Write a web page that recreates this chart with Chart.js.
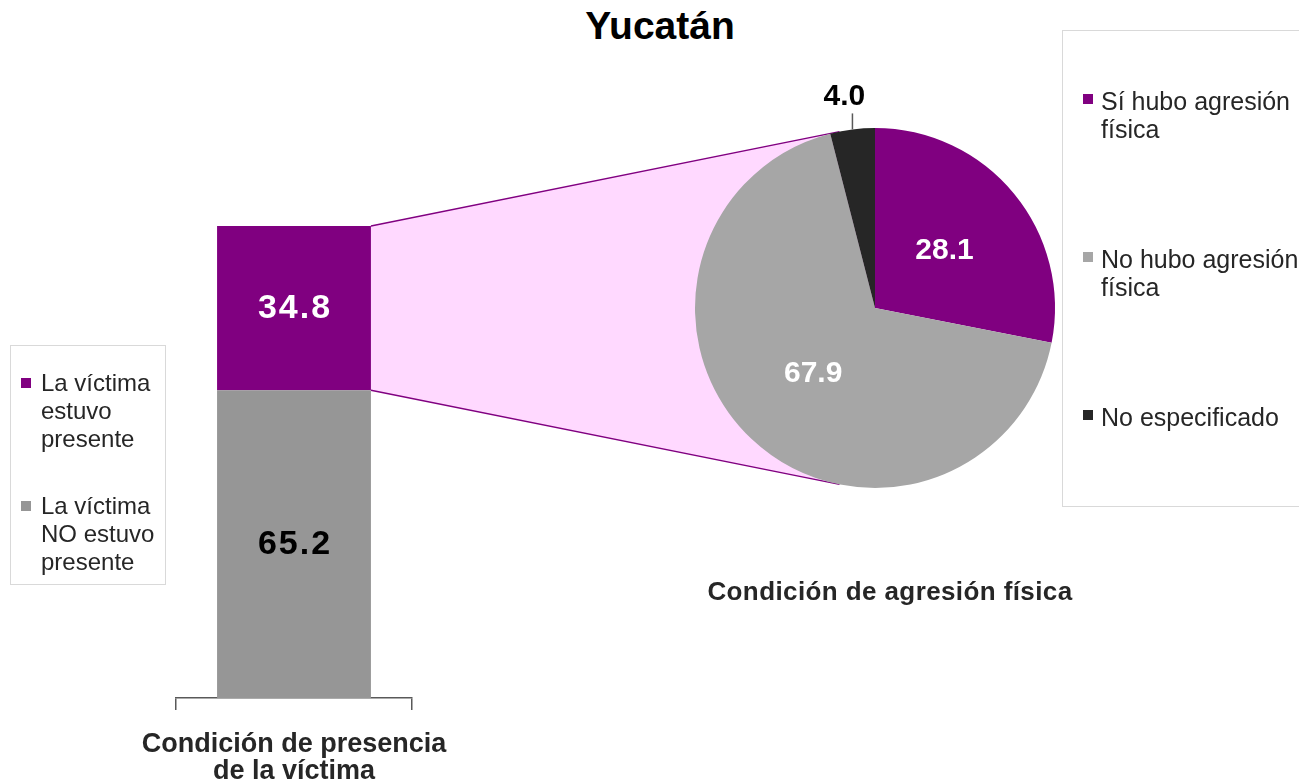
<!DOCTYPE html>
<html>
<head>
<meta charset="utf-8">
<script src="https://cdn.jsdelivr.net/npm/chart.js@4"></script>
<style>
  body { margin: 0; width: 1299px; height: 784px; background: #fff; position: relative; overflow: hidden;
         font-family: "Liberation Sans", Arial, sans-serif; }
  canvas { position: absolute; }
  #title { position: absolute; left: 0; width: 1320px; top: 4px; text-align: center; font-size: 39px; font-weight: bold; color: #000; }
  #pieTitle { position: absolute; left: 640px; width: 500px; top: 576px; text-align: center; font-size: 26px; font-weight: bold; color: #262626; letter-spacing: 0.4px; }
  .legend { position: absolute; border: 1.5px solid #d9d9d9; box-sizing: border-box; color: #262626; }
  .legend .item { position: relative; line-height: 28px; }
  .legend .sw { position: absolute; width: 10px; height: 10px; }
  #legLeft { left: 10px; top: 345px; width: 156px; height: 240px; padding: 23px 0 0 30px; font-size: 24px; }
  #legLeft .item { margin-bottom: 39px; }
  #legLeft .sw { left: -20px; top: 9px; }
  #legRight { left: 1062px; top: 30px; width: 260px; height: 477px; padding: 56px 0 0 38px; font-size: 25px; }
  #legRight .item { margin-bottom: 102px; width: 205px; }
  #legRight .sw { left: -18px; top: 7px; }
</style>
</head>
<body>
<div id="title">Yucatán</div>
<canvas id="link" width="1299" height="784" style="left:0;top:0;"></canvas>
<canvas id="bar" width="356" height="590" style="left:116px;top:206px;"></canvas>
<canvas id="pie" width="440" height="480" style="left:655px;top:68px;"></canvas>
<div id="pieTitle">Condición de agresión física</div>
<div id="legLeft" class="legend"></div>
<div id="legRight" class="legend"></div>

<script>
// Data
const presenceCategory = ['Condición de presencia de la víctima'];
const presenceTitle = ['Condición de presencia', 'de la víctima'];
const presenceLabels = ['La víctima estuvo presente', 'La víctima NO estuvo presente'];
const presenceValues = [34.8, 65.2];
const aggressionLabels = ['Sí hubo agresión física', 'No hubo agresión física', 'No especificado'];
const aggressionValues = [28.1, 67.9, 4.0];

const PURPLE = '#800080';
const presenceColors = [PURPLE, '#969696'];
const aggressionColors = [PURPLE, '#A6A6A6', '#262626'];
const FONT = '"Liberation Sans", Arial, sans-serif';

// Build the HTML legends
function buildLegend(id, labels, colors) {
    const box = document.getElementById(id);
    labels.forEach((label, i) => {
        const item = document.createElement('div');
        item.className = 'item';
        item.innerHTML = `<span class="sw" style="background:${colors[i]}"></span>${label}`;
        box.appendChild(item);
    });
}
buildLegend('legLeft', presenceLabels, presenceColors);
buildLegend('legRight', aggressionLabels, aggressionColors);

// Value labels inside the stacked bar + category caption under the axis
const barLabelPlugin = {
    id: 'barLabels',
    afterDatasetsDraw(chart) {
        const ctx = chart.ctx;
        ctx.save();
        ctx.textAlign = 'center';
        ctx.textBaseline = 'middle';
        ctx.font = `bold 34px ${FONT}`;
        ctx.letterSpacing = '2px';
        chart.data.datasets.forEach((ds, i) => {
            const el = chart.getDatasetMeta(i).data[0];
            ctx.fillStyle = ds.labelColor;
            ctx.fillText(ds.data[0].toFixed(1), el.x + 1, (el.y + el.base) / 2);
        });
        ctx.restore();
    },
    afterDraw(chart) {
        const x = chart.scales.x;
        const ctx = chart.ctx;
        ctx.save();
        ctx.textAlign = 'center';
        ctx.textBaseline = 'middle';
        ctx.fillStyle = '#262626';
        ctx.font = `bold 27px ${FONT}`;
        presenceTitle.forEach((line, i) => {
            ctx.fillText(line, (x.left + x.right) / 2, x.top + 47 + i * 27);
        });
        ctx.restore();
    }
};

const barChart = new Chart(document.getElementById('bar'), {
    type: 'bar',
    data: {
        labels: presenceCategory,
        datasets: [
            { label: presenceLabels[1], data: [presenceValues[1]], backgroundColor: presenceColors[1], labelColor: '#000' },
            { label: presenceLabels[0], data: [presenceValues[0]], backgroundColor: presenceColors[0], labelColor: '#fff' }
        ]
    },
    options: {
        responsive: false,
        animation: false,
        barPercentage: 0.652,
        categoryPercentage: 1,
        layout: { padding: { top: 20, left: 60, right: 60, bottom: 0 } },
        plugins: { legend: { display: false }, tooltip: { enabled: false } },
        scales: {
            x: {
                stacked: true,
                grid: { display: true, offset: true, drawOnChartArea: false, drawTicks: true, tickLength: 12, color: '#595959', lineWidth: 1.5 },
                border: { display: true, color: '#595959', width: 1.5 },
                ticks: { display: false },
                afterFit(scale) { scale.height = 98; }
            },
            y: { stacked: true, min: 0, max: 100, display: false }
        }
    },
    plugins: [barLabelPlugin]
});

// Value labels on the pie
const pieLabelPlugin = {
    id: 'pieLabels',
    afterDatasetsDraw(chart) {
        const ctx = chart.ctx;
        const meta = chart.getDatasetMeta(0);
        ctx.save();
        ctx.textAlign = 'center';
        ctx.textBaseline = 'middle';
        meta.data.forEach((arc, i) => {
            const mid = (arc.startAngle + arc.endAngle) / 2;
            const cos = Math.cos(mid), sin = Math.sin(mid);
            const text = aggressionValues[i].toFixed(1);
            if (aggressionValues[i] < 10) {
                // small slice: label outside with a leader line
                const ex = arc.x + cos * arc.outerRadius;
                const ey = arc.y + sin * arc.outerRadius;
                ctx.strokeStyle = '#595959';
                ctx.lineWidth = 1.5;
                ctx.beginPath();
                ctx.moveTo(ex, ey);
                ctx.lineTo(ex, ey - 16);
                ctx.stroke();
                ctx.fillStyle = '#000';
                ctx.font = `bold 30px ${FONT}`;
                ctx.fillText(text, ex - 8, ey - 33);
            } else {
                ctx.fillStyle = '#fff';
                ctx.font = `bold 30px ${FONT}`;
                ctx.fillText(text, arc.x + cos * arc.outerRadius * 0.5, arc.y + sin * arc.outerRadius * 0.5);
            }
        });
        ctx.restore();
    }
};

const pieChart = new Chart(document.getElementById('pie'), {
    type: 'pie',
    data: {
        labels: aggressionLabels,
        datasets: [{ data: aggressionValues, backgroundColor: aggressionColors, borderWidth: 0 }]
    },
    options: {
        responsive: false,
        animation: false,
        layout: { padding: { left: 40, right: 40, top: 60, bottom: 60 } },
        plugins: { legend: { display: false }, tooltip: { enabled: false } }
    },
    plugins: [pieLabelPlugin]
});

// Connector from the purple bar segment to the pie
function drawConnector() {
    const barCanvas = document.getElementById('bar');
    const pieCanvas = document.getElementById('pie');
    const bar = barChart.getDatasetMeta(1).data[0];
    const arc = pieChart.getDatasetMeta(0).data[0];

    const bx = barCanvas.offsetLeft + bar.x + bar.width / 2;
    const topY = barCanvas.offsetTop + bar.y;
    const botY = barCanvas.offsetTop + bar.base;
    const cx = pieCanvas.offsetLeft + arc.x;
    const cy = pieCanvas.offsetTop + arc.y;
    const r = arc.outerRadius;

    function tangent(px, py, upper) {
        const dx = px - cx, dy = py - cy;
        const d = Math.hypot(dx, dy);
        const base = Math.atan2(dy, dx);
        const a = Math.acos(r / d);
        const ang = upper ? base + a : base - a;
        return [cx + r * Math.cos(ang), cy + r * Math.sin(ang)];
    }
    const t1 = tangent(bx, topY, true);
    const t2 = tangent(bx, botY, false);

    const ctx = document.getElementById('link').getContext('2d');
    ctx.fillStyle = '#FFD9FF';
    ctx.beginPath();
    ctx.moveTo(bx, topY);
    ctx.lineTo(t1[0], t1[1]);
    ctx.lineTo(cx, cy);
    ctx.lineTo(t2[0], t2[1]);
    ctx.lineTo(bx, botY);
    ctx.closePath();
    ctx.fill();

    ctx.strokeStyle = PURPLE;
    ctx.lineWidth = 1.3;
    ctx.beginPath();
    ctx.moveTo(bx, topY);
    ctx.lineTo(t1[0], t1[1]);
    ctx.moveTo(bx, botY);
    ctx.lineTo(t2[0], t2[1]);
    ctx.stroke();
}
drawConnector();
</script>
</body>
</html>
